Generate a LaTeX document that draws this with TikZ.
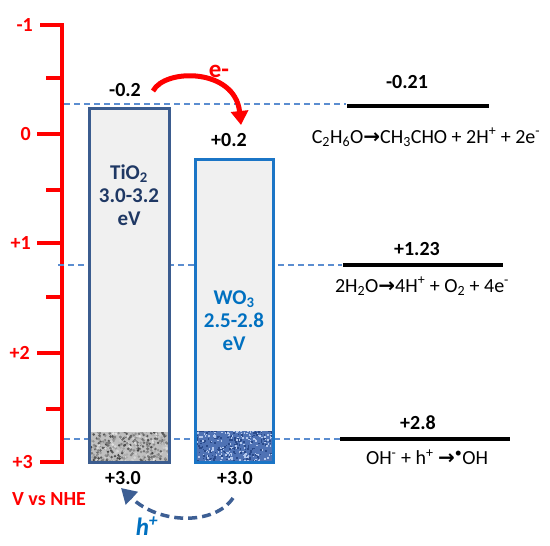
\documentclass[tikz,border=0pt]{standalone}
\usepackage{fontspec}
\setmainfont{Carlito}
\newfontfamily\dejavu{DejaVu Sans}
\usetikzlibrary{arrows.meta}
\definecolor{axred}{HTML}{FF0000}
\definecolor{tiob}{HTML}{3B5C8F}
\definecolor{wob}{HTML}{1B75C6}
\definecolor{tiotxt}{HTML}{1F3864}
\definecolor{wotxt}{HTML}{0070C0}
\definecolor{dashc}{HTML}{5B8DD0}
\definecolor{boxgray}{HTML}{F0F0F0}
\definecolor{harrow}{HTML}{3D5F94}
\definecolor{wobase}{HTML}{4F72B4}
\definecolor{wolight}{HTML}{B4C8EC}
\definecolor{wodark}{HTML}{2A4A8A}
\tikzset{
  axlbl/.style={text=axred, font=\fontsize{20}{22}\selectfont\bfseries, inner sep=0},
  lvl/.style={font=\fontsize{20}{22}\selectfont\bfseries, inner sep=0},
  eqn/.style={font=\fontsize{20}{22}\selectfont, inner sep=0},
  guide/.style={dashc, line width=1.3, dash pattern=on 6 off 4},
  potline/.style={black, line width=4},
  tick/.style={axred, line width=4},
  semilbl/.style={font=\fontsize{21}{23}\selectfont\bfseries, align=center, inner sep=0},
}
\begin{document}
\begin{tikzpicture}[x=1pt,y=-1pt]
\useasboundingbox (0,0) rectangle (550,546);
% axis
\draw[tick, line join=miter] (40,25) -- (62,25) -- (62,462) -- (40,462);
\foreach \yy in {134,243,353}{\draw[tick] (37,\yy) -- (62,\yy);}
\foreach \yy in {78,190,297,409}{\draw[tick] (46,\yy) -- (62,\yy);}
\node[axlbl, anchor=east] (lm1) at (33,25) {-1};
\node[axlbl, anchor=east] (l0) at (31,134) {0};
\node[axlbl, anchor=east] (l1) at (31,243) {+1};
\node[axlbl, anchor=east] (l2) at (30,353) {+2};
\node[axlbl, anchor=east] (l3) at (33,462) {+3};
\node[axlbl] (vnhe) at (49,499) {V vs NHE};
% guides
\draw[guide] (64,104) -- (346,104);
\draw[guide] (58,265) -- (342,265);
\draw[guide] (64,439) -- (340,439);
% TiO2 box
\fill[boxgray] (89,108) rectangle (169,462);
\begin{scope}
\clip (89,432) rectangle (169,462);
\fill[gray!50] (89,432) rectangle (169,462);
\pgfmathsetseed{7}
\foreach \i in {1,...,420}{
  \pgfmathsetmacro\xx{87+84*rnd}
  \pgfmathsetmacro\yy{430+34*rnd}
  \pgfmathtruncatemacro\gg{10+65*rnd}
  \fill[black!\gg] (\xx,\yy) circle (1.4);
}
\end{scope}
\draw[tiob, line width=3] (89,108) rectangle (169,462);
\node[semilbl, text=tiotxt] (tio2) at (129,195) {TiO\textsubscript{2}\\3.0-3.2\\eV};
% WO3 box
\fill[boxgray] (195,159) rectangle (273,462);
\begin{scope}
\clip (195,431) rectangle (273,462);
\fill[wobase] (195,431) rectangle (273,462);
\pgfmathsetseed{3}
\foreach \i in {1,...,380}{
  \pgfmathsetmacro\xx{193+82*rnd}
  \pgfmathsetmacro\yy{429+35*rnd}
  \pgfmathtruncatemacro\dd{rnd*2}
  \ifnum\dd=0
    \fill[wolight] (\xx,\yy) rectangle ++(1.6,1.6);
  \else
    \fill[wodark] (\xx,\yy) rectangle ++(1.6,1.6);
  \fi
}
\end{scope}
\draw[wob, line width=3] (195,159) rectangle (273,462);
\node[semilbl, text=wotxt] (wo3) at (234,321) {WO\textsubscript{3}\\2.5-2.8\\eV};
% band edge labels
\node[lvl] (cbt) at (125,90) {-0.2};
\node[lvl] (cbw) at (229,140) {+0.2};
\node[lvl] (vbt) at (123,478) {+3.0};
\node[lvl] (vbw) at (235,478) {+3.0};
% potentials
\draw[potline] (347,106) -- (489,106);
\draw[potline] (343,265) -- (503,265);
\draw[potline] (340,439) -- (510,439);
\node[lvl] (p1) at (407,82) {-0.21};
\node[lvl] (p2) at (417,249) {+1.23};
\node[lvl] (p3) at (418,423) {+2.8};
\node[eqn] (e1) at (426,137) {C\textsubscript{2}H\textsubscript{6}O{\dejavu\bfseries →}CH\textsubscript{3}CHO + 2H\textsuperscript{+} + 2e\textsuperscript{-}};
\node[eqn] (e2) at (422,286) {2H\textsubscript{2}O{\dejavu\bfseries →}4H\textsuperscript{+} + O\textsubscript{2} + 4e\textsuperscript{-}};
\node[eqn] (e3) at (427,457) {OH\textsuperscript{-} + h\textsuperscript{+} {\dejavu\bfseries →}\textsuperscript{•}OH};
% electron transfer
\coordinate (es) at (153,91);
\coordinate (ee) at (241,125);
\draw[axred, line width=5, -{Triangle[length=14,width=17]}] (es) .. controls (165,68) and (235,68) .. (ee);
\node[text=axred, font=\fontsize{25}{27}\selectfont\bfseries, inner sep=0] (elab) at (219,71) {e-};
% hole transfer
\coordinate (hs) at (233,498);
\coordinate (he) at (121,488);
\draw[harrow, line width=3.5, dash pattern=on 9 off 5, -{Triangle[length=15,width=17]}] (hs) .. controls (215,525) and (160,525) .. (he);
\node[text=wotxt, font=\fontsize{25}{27}\selectfont\bfseries\itshape, inner sep=0] (hlab) at (147,526) {h\textsuperscript{+}};
\end{tikzpicture}
\end{document}
